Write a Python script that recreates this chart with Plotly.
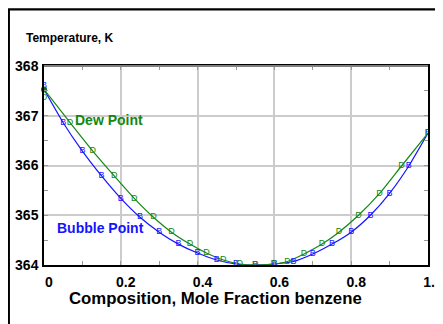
import plotly.graph_objects as go

# ---- data ----
bubble_x = [0.00, 0.05, 0.10, 0.15, 0.20, 0.25, 0.30, 0.35, 0.40, 0.45, 0.50,
            0.55, 0.60, 0.65, 0.70, 0.75, 0.80, 0.85, 0.90, 0.95, 1.00]
bubble_T = [367.60, 366.86, 366.29, 365.79, 365.34, 364.96, 364.66, 364.42, 364.24, 364.10, 364.02,
            364.00, 364.02, 364.07, 364.22, 364.42, 364.66, 365.00, 365.44, 365.99, 366.65]
dew_y = [0.000, 0.068, 0.127, 0.183, 0.235, 0.285, 0.332, 0.380, 0.423, 0.467, 0.510,
         0.550, 0.598, 0.634, 0.677, 0.724, 0.768, 0.819, 0.874, 0.931, 1.000]
dew_T = [367.37, 366.86, 366.29, 365.79, 365.34, 364.96, 364.66, 364.42, 364.24, 364.10, 364.02,
         364.00, 364.02, 364.07, 364.22, 364.42, 364.66, 365.00, 365.44, 365.99, 366.65]
curve_start_x = [0.0]
curve_start_T = [367.53]

x_ticks = [0, 0.2, 0.4, 0.6, 0.8, 1.0]
x_ticklabels = ["0", "0.2", "0.4", "0.6", "0.8", "1.0"]
y_ticks = [364, 365, 366, 367, 368]
y_ticklabels = ["364", "365", "366", "367", "368"]

BLUE = "#1414ff"
GREEN = "#128812"
FONT = "Liberation Sans, Arial, sans-serif"

# the page body adds an 8px offset; plot area spans 384.5 x 199.5 px
PW, PH = 384.5, 199.5

fig = go.Figure()

# smooth curves
fig.add_trace(go.Scatter(
    x=curve_start_x + bubble_x[1:], y=curve_start_T + bubble_T[1:],
    mode="lines", line=dict(color=BLUE, width=1.2, shape="spline", smoothing=0.6),
    hoverinfo="skip", showlegend=False))
fig.add_trace(go.Scatter(
    x=curve_start_x + dew_y[1:], y=curve_start_T + dew_T[1:],
    mode="lines", line=dict(color=GREEN, width=1.2, shape="spline", smoothing=0.6),
    hoverinfo="skip", showlegend=False))

# letter markers
fig.add_trace(go.Scatter(
    x=bubble_x, y=bubble_T, mode="text", text=["B"] * len(bubble_x),
    textposition="middle center",
    textfont=dict(family=FONT, size=9, color=BLUE), showlegend=False))
fig.add_trace(go.Scatter(
    x=dew_y, y=dew_T, mode="text", text=["D"] * len(dew_y),
    textposition="middle center",
    textfont=dict(family=FONT, size=9, color=GREEN), showlegend=False))
fig.add_trace(go.Scatter(
    x=curve_start_x, y=curve_start_T, mode="markers",
    marker=dict(color="#0a6a2a", size=6, line=dict(width=0)),
    showlegend=False, cliponaxis=False))

fig.update_layout(
    width=435, height=316,
    margin=dict(l=36, r=14.5, t=57.5, b=59, autoexpand=False),
    paper_bgcolor="white", plot_bgcolor="white",
    font=dict(family=FONT, color="black"),
    showlegend=False,
    xaxis=dict(
        range=[0, 1], tickvals=x_ticks, ticktext=x_ticklabels,
        showgrid=True, gridcolor="#cccccc", gridwidth=1.5,
        showline=True, linecolor="black", linewidth=1.5, mirror="allticks",
        ticks="inside", ticklen=4, tickcolor="#999999",
        minor=dict(dtick=0.1, ticks="inside", ticklen=4, tickcolor="#999999", showgrid=False),
        tickfont=dict(family=FONT, size=14, weight="bold", color="black"),
        ticklabelshift=5, ticklabelstandoff=3, ticklabeloverflow="allow",
        automargin=False, zeroline=False, fixedrange=True,
    ),
    yaxis=dict(
        range=[364, 368], tickvals=y_ticks, ticktext=y_ticklabels,
        showgrid=True, gridcolor="#cccccc", gridwidth=1.5,
        showline=True, linecolor="black", linewidth=1.5, mirror="allticks",
        ticks="inside", ticklen=4, tickcolor="#999999",
        minor=dict(dtick=0.5, ticks="inside", ticklen=4, tickcolor="#999999", showgrid=False),
        tickfont=dict(family=FONT, size=14, weight="bold", color="black"),
        ticklabelstandoff=1, ticklabeloverflow="allow",
        automargin=False, zeroline=False, fixedrange=True,
    ),
    shapes=[
        # outer frame (left at page x~8.5, top at page y~8.5)
        dict(type="rect", xref="paper", yref="paper",
             x0=(8.8 - 44) / PW, x1=1.2, y0=-0.5, y1=(265 - 8.8) / PH,
             line=dict(color="black", width=2.2), fillcolor="rgba(0,0,0,0)", layer="above"),
        # gray top axis line
        dict(type="line", xref="paper", yref="paper", x0=0, x1=1, y0=1, y1=1,
             line=dict(color="#808080", width=2), layer="above"),
    ],
    annotations=[
        dict(text="Temperature, K", xref="paper", yref="paper",
             x=(24 - 44) / PW, y=(265 - 37) / PH, xanchor="left", yanchor="middle",
             showarrow=False, font=dict(family=FONT, size=12, weight="bold", color="black")),
        dict(text="Composition, Mole Fraction benzene", xref="paper", yref="paper",
             x=(216 - 44) / PW, y=(265 - 299) / PH, xanchor="center", yanchor="middle",
             showarrow=False, font=dict(family=FONT, size=16.8, weight="bold", color="black")),
        dict(text="Dew Point", x=0.075, y=366.91, xanchor="left", yanchor="middle",
             showarrow=False, font=dict(family=FONT, size=14, weight="bold", color=GREEN)),
        dict(text="Bubble Point", x=0.029, y=364.74, xanchor="left", yanchor="middle",
             showarrow=False, font=dict(family=FONT, size=14, weight="bold", color=BLUE)),
    ],
)

fig.write_html("out.html")
